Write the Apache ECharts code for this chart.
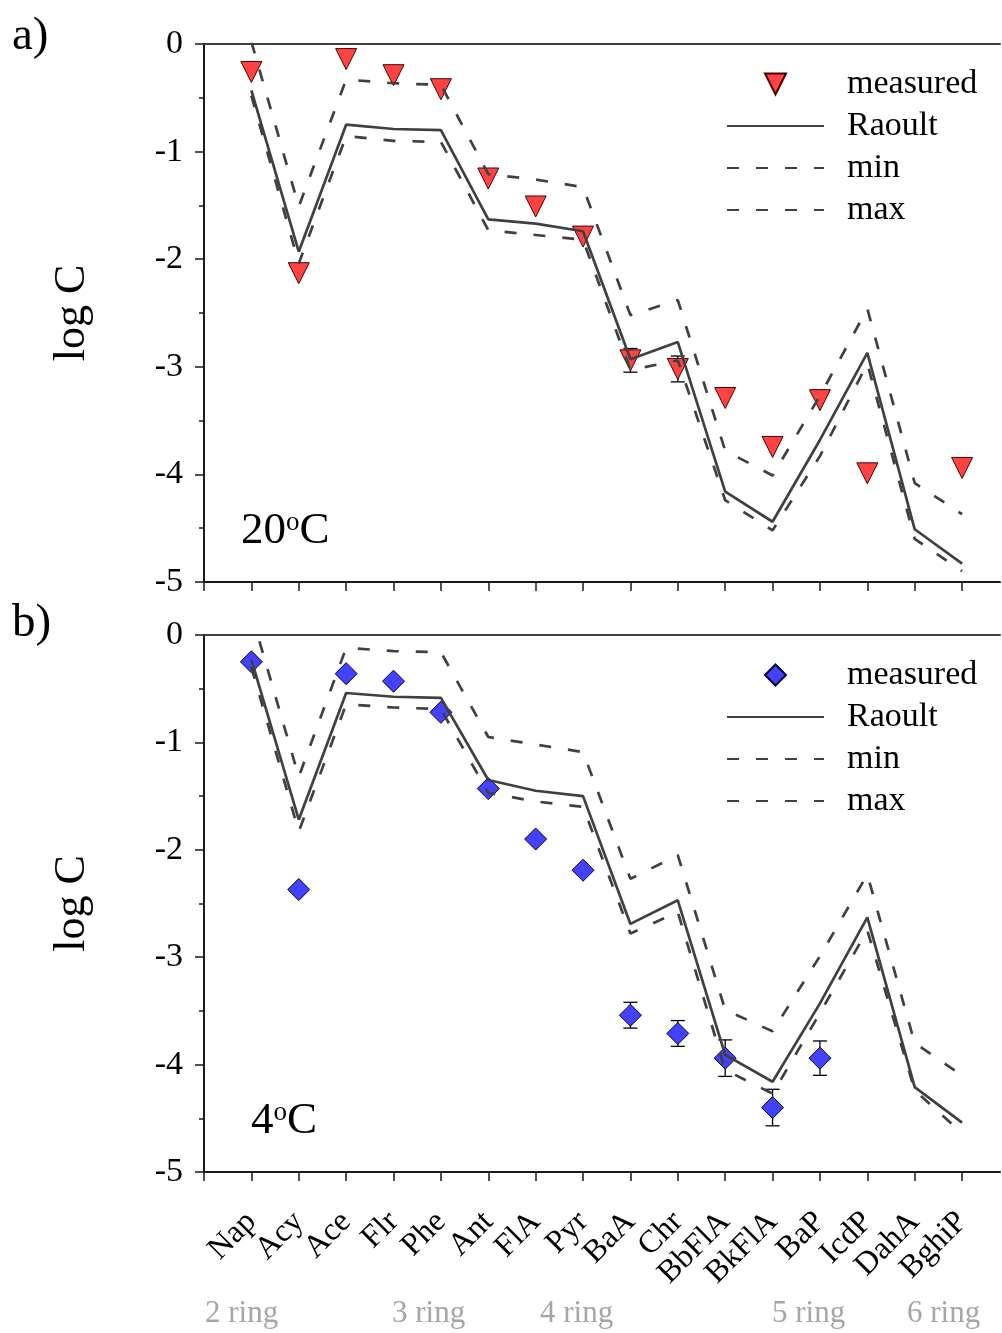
<!DOCTYPE html>
<html><head><meta charset="utf-8">
<script src="https://cdn.jsdelivr.net/npm/echarts@6/dist/echarts.min.js"></script>
<style>html,body{margin:0;padding:0;background:#fff}#c{width:1002px;height:1333px}</style>
</head><body><div id="c"></div><script>
const categories = ['Nap','Acy','Ace','Flr','Phe','Ant','FlA','Pyr','BaA','Chr','BbFlA','BkFlA','BaP','IcdP','DahA','BghiP'];
const yTicks = [0,-1,-2,-3,-4,-5];
const ringLabels = ['2 ring','3 ring','4 ring','5 ring','6 ring'];

// a) 20 °C
const measured20 = [-0.26,-2.13,-0.14,-0.29,-0.42,-1.25,-1.51,-1.79,-2.94,-3.02,-3.29,-3.745,-3.31,-3.99,null,-3.94];
const err20      = [null,null,null,null,null,null,null,null,0.11,0.12,null,null,null,null,null,null];
const raoult20   = [-0.43,-1.93,-0.75,-0.79,-0.80,-1.63,-1.67,-1.74,-2.93,-2.77,-4.16,-4.44,-3.68,-2.87,-4.51,-4.83];
const min20      = [-0.48,-2.04,-0.855,-0.90,-0.91,-1.73,-1.775,-1.82,-3.03,-2.94,-4.24,-4.52,-3.83,-2.97,-4.60,-4.90];
const max20      = [0.02,-1.51,-0.33,-0.365,-0.38,-1.21,-1.26,-1.33,-2.52,-2.38,-3.78,-4.01,-3.27,-2.46,-4.08,-4.37];

// b) 4 °C
const measured4 = [-0.25,-2.37,-0.36,-0.43,-0.72,-1.43,-1.90,-2.19,-3.54,-3.71,-3.94,-4.40,-3.94,null,null,null];
const err4      = [null,null,null,null,null,null,null,null,0.12,0.12,0.17,0.17,0.16,null,null,null];
const raoult4   = [-0.23,-1.72,-0.54,-0.575,-0.585,-1.35,-1.45,-1.50,-2.69,-2.47,-3.91,-4.16,-3.43,-2.63,-4.21,-4.54];
const min4      = [-0.30,-1.83,-0.645,-0.675,-0.69,-1.47,-1.55,-1.60,-2.78,-2.58,-4.05,-4.27,-3.52,-2.75,-4.24,-4.64];
const max4      = [0.20,-1.32,-0.12,-0.15,-0.16,-0.95,-1.02,-1.09,-2.27,-2.05,-3.49,-3.69,-2.99,-2.23,-3.80,-4.10];

const FONT = 'Liberation Serif';
const LINE = '#404040';
const AXIS = '#1a1a1a';
const DASH = [12,17];

const pts = arr => arr.map((v,i) => v == null ? null : [i+1, v]).filter(Boolean);
const errPts = (vals, errs) => vals.map((v,i) => (v == null || errs[i] == null) ? null : [i+1, v-errs[i], v+errs[i]]).filter(Boolean);
const tickVals = [0].concat(categories.map((c,i)=>i+1));
const labelVals = categories.map((c,i)=>i+1);

function renderErr(params, api){
  const x = api.value(0), lo = api.value(1), hi = api.value(2);
  const p1 = api.coord([x, lo]), p2 = api.coord([x, hi]);
  const w = 7, st = {stroke:'#000', lineWidth:1.3};
  return {type:'group', children:[
    {type:'line', shape:{x1:p1[0],y1:p1[1],x2:p2[0],y2:p2[1]}, style:st},
    {type:'line', shape:{x1:p1[0]-w,y1:p1[1],x2:p1[0]+w,y2:p1[1]}, style:st},
    {type:'line', shape:{x1:p2[0]-w,y1:p2[1],x2:p2[0]+w,y2:p2[1]}, style:st}
  ]};
}

function xBottom(grid, showLabels){
  return {type:'value', gridIndex:grid, position:'bottom', min:0, max:16.8, interval:1,
    axisLine:{show:true, onZero:false, lineStyle:{color:AXIS, width:2}},
    axisTick:{show:true, length:9, inside:false, customValues:tickVals, lineStyle:{color:AXIS, width:1.5}},
    splitLine:{show:false},
    axisLabel:{show:showLabels, customValues:labelVals, rotate:45, margin:45, hideOverlap:false,
      fontFamily:FONT, fontSize:32, color:'#000',
      formatter: v => categories[Math.round(v)-1] || ''}
  };
}
function xTop(grid){
  return {type:'value', gridIndex:grid, position:'top', min:0, max:16.8,
    axisLine:{show:true, onZero:false, lineStyle:{color:LINE, width:2}},
    axisTick:{show:false}, axisLabel:{show:false}, splitLine:{show:false}};
}
function yAx(grid){
  return {type:'value', gridIndex:grid, min:-5, max:0, interval:1,
    name:'log C', nameLocation:'middle', nameGap:110, nameRotate:90,
    nameTextStyle:{fontFamily:FONT, fontSize:44, color:'#000'},
    axisLine:{show:true, onZero:false, lineStyle:{color:AXIS, width:2}},
    axisTick:{show:true, length:9, lineStyle:{color:AXIS, width:1.5}},
    minorTick:{show:true, splitNumber:2, length:5, lineStyle:{color:AXIS, width:1.5}},
    splitLine:{show:false},
    axisLabel:{margin:21, fontFamily:FONT, fontSize:34, color:'#000', customValues:yTicks, formatter: v => String(v)}
  };
}

function lineSeries(name, data, xi, yi, dashed){
  return {type:'line', name:name, data:pts(data), xAxisIndex:xi, yAxisIndex:yi, symbol:'none', clip:true, z:5,
    lineStyle:{color:LINE, width:2.7, type: dashed ? DASH : 'solid'}, itemStyle:{color:LINE}};
}

const TRI = 'path://M0,0L20,0L10,20Z';
const DIA = 'path://M10,0L20,10L10,20L0,10Z';
const hideSym = {opacity:0};

const legendBase = {orient:'vertical', left:726, padding:0, itemWidth:97, itemHeight:21, itemGap:8, selectedMode:false,
  textStyle:{fontFamily:FONT, fontSize:34, color:'#000', padding:[0,0,0,18]}};

const option = {
  backgroundColor:'#fff',
  animation:false,
  grid:[
    {left:204, top:44, width:796, height:538},
    {left:204, top:635, width:796, height:537}
  ],
  xAxis:[xBottom(0,false), xTop(0), xBottom(1,true), xTop(1)],
  yAxis:[yAx(0), yAx(1)],
  legend:[
    Object.assign({}, legendBase, {top:67, data:[{name:'measured'},{name:'Raoult',itemStyle:hideSym},{name:'min',itemStyle:hideSym},{name:'max',itemStyle:hideSym}]}),
    Object.assign({}, legendBase, {top:658, data:[{name:'measured_b'},{name:'Raoult_b',itemStyle:hideSym},{name:'min_b',itemStyle:hideSym},{name:'max_b',itemStyle:hideSym}],
      formatter: n => n.replace('_b','')})
  ],
  series:[
    {type:'custom', name:'err20', xAxisIndex:0, yAxisIndex:0, renderItem:renderErr, data:errPts(measured20, err20), encode:{x:0, y:[1,2]}, z:2},
    {type:'scatter', name:'measured', xAxisIndex:0, yAxisIndex:0, data:pts(measured20), symbol:TRI, symbolSize:21, z:3,
      itemStyle:{color:'#ff4242', borderColor:'#4a0000', borderWidth:1, opacity:1}},
    lineSeries('Raoult', raoult20, 0, 0, false),
    lineSeries('min', min20, 0, 0, true),
    lineSeries('max', max20, 0, 0, true),

    {type:'custom', name:'err4', xAxisIndex:2, yAxisIndex:1, renderItem:renderErr, data:errPts(measured4, err4), encode:{x:0, y:[1,2]}, z:2},
    {type:'scatter', name:'measured_b', xAxisIndex:2, yAxisIndex:1, data:pts(measured4), symbol:DIA, symbolSize:22, z:3,
      itemStyle:{color:'#4242ff', borderColor:'#00003a', borderWidth:1, opacity:1}},
    lineSeries('Raoult_b', raoult4, 2, 1, false),
    lineSeries('min_b', min4, 2, 1, true),
    lineSeries('max_b', max4, 2, 1, true)
  ],
  graphic:[
    {type:'text', left:12, top:13, style:{text:'a)', fontFamily:FONT, fontSize:47, fill:'#000'}},
    {type:'text', left:12, top:600, style:{text:'b)', fontFamily:FONT, fontSize:47, fill:'#000'}},
    {type:'text', left:241, top:509, style:{text:'{n|20}{s|o}{n|C}', rich:{n:{fontFamily:FONT, fontSize:45, fill:'#000'}, s:{fontFamily:FONT, fontSize:27, fill:'#000', verticalAlign:'top'}}}},
    {type:'text', left:251, top:1099, style:{text:'{n|4}{s|o}{n|C}', rich:{n:{fontFamily:FONT, fontSize:45, fill:'#000'}, s:{fontFamily:FONT, fontSize:27, fill:'#000', verticalAlign:'top'}}}},
    {type:'text', left:205, top:1298, style:{text:ringLabels[0], fontFamily:FONT, fontSize:31, fill:'#a6a6a6'}},
    {type:'text', left:392, top:1298, style:{text:ringLabels[1], fontFamily:FONT, fontSize:31, fill:'#a6a6a6'}},
    {type:'text', left:540, top:1298, style:{text:ringLabels[2], fontFamily:FONT, fontSize:31, fill:'#a6a6a6'}},
    {type:'text', left:772, top:1298, style:{text:ringLabels[3], fontFamily:FONT, fontSize:31, fill:'#a6a6a6'}},
    {type:'text', left:907, top:1298, style:{text:ringLabels[4], fontFamily:FONT, fontSize:31, fill:'#a6a6a6'}}
  ]
};
const chart = echarts.init(document.getElementById('c'));
chart.setOption(option);
</script></body></html>
